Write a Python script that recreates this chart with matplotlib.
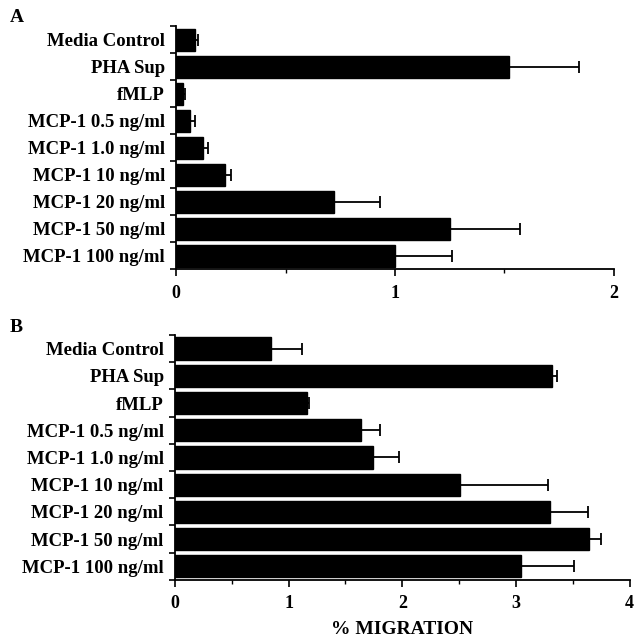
import matplotlib.pyplot as plt
import numpy as np
from matplotlib.ticker import FixedLocator, MultipleLocator

categories = [
    "Media Control", "PHA Sup", "fMLP", "MCP-1 0.5 ng/ml", "MCP-1 1.0 ng/ml",
    "MCP-1 10 ng/ml", "MCP-1 20 ng/ml", "MCP-1 50 ng/ml", "MCP-1 100 ng/ml",
]
values_a = [0.086, 1.52, 0.033, 0.064, 0.124, 0.224, 0.72, 1.25, 1.0]
errors_a = [0.012, 0.32, 0.007, 0.022, 0.023, 0.029, 0.21, 0.32, 0.26]
values_b = [0.845, 3.32, 1.158, 1.64, 1.74, 2.51, 3.30, 3.645, 3.04]
errors_b = [0.27, 0.04, 0.018, 0.16, 0.23, 0.77, 0.33, 0.10, 0.47]

plt.rcParams["font.family"] = ["Liberation Serif", "DejaVu Serif"]
plt.rcParams["font.weight"] = "bold"

fig = plt.figure(figsize=(6.38, 6.38), dpi=100)
ax_a = fig.add_axes([0.276, 0.578, 0.686, 0.381])
ax_b = fig.add_axes([0.274, 0.091, 0.713, 0.384])


def draw_panel(ax, values, errors, xmax):
    y = np.arange(len(categories))
    ax.barh(y, values, height=0.82, color="black", edgecolor="black")
    ax.errorbar(values, y, xerr=[np.zeros(len(values)), errors], fmt="none",
                ecolor="black", elinewidth=1.3, capsize=4.3, capthick=1.3)
    ax.set_ylim(len(categories) - 0.5, -0.5)
    ax.set_xlim(0, xmax)
    ax.set_yticks(y)
    ax.set_yticklabels(categories, fontsize=13.5, fontweight="bold")
    ax.yaxis.set_minor_locator(FixedLocator(np.arange(-0.5, len(categories), 1.0)))
    ax.tick_params(axis="y", which="major", length=0, pad=8)
    ax.tick_params(axis="y", which="minor", length=4, width=1.2, direction="out")
    ax.xaxis.set_major_locator(MultipleLocator(1))
    ax.xaxis.set_minor_locator(MultipleLocator(0.5))
    ax.tick_params(axis="x", which="major", length=5, width=1.2, labelsize=13, pad=6)
    ax.tick_params(axis="x", which="minor", length=3, width=1.0)
    for lab in ax.get_xticklabels():
        lab.set_fontweight("bold")
    ax.spines["top"].set_visible(False)
    ax.spines["right"].set_visible(False)
    ax.spines["left"].set_linewidth(1.3)
    ax.spines["bottom"].set_linewidth(1.3)


draw_panel(ax_a, values_a, errors_a, 2)
draw_panel(ax_b, values_b, errors_b, 4)
ax_b.set_xlabel("% MIGRATION", fontsize=14, fontweight="bold", labelpad=6)

fig.text(0.015, 0.972, "A", fontsize=14, fontweight="bold", va="center")
fig.text(0.015, 0.486, "B", fontsize=14, fontweight="bold", va="center")

fig.savefig("out.png", dpi=100)
plt.close(fig)
